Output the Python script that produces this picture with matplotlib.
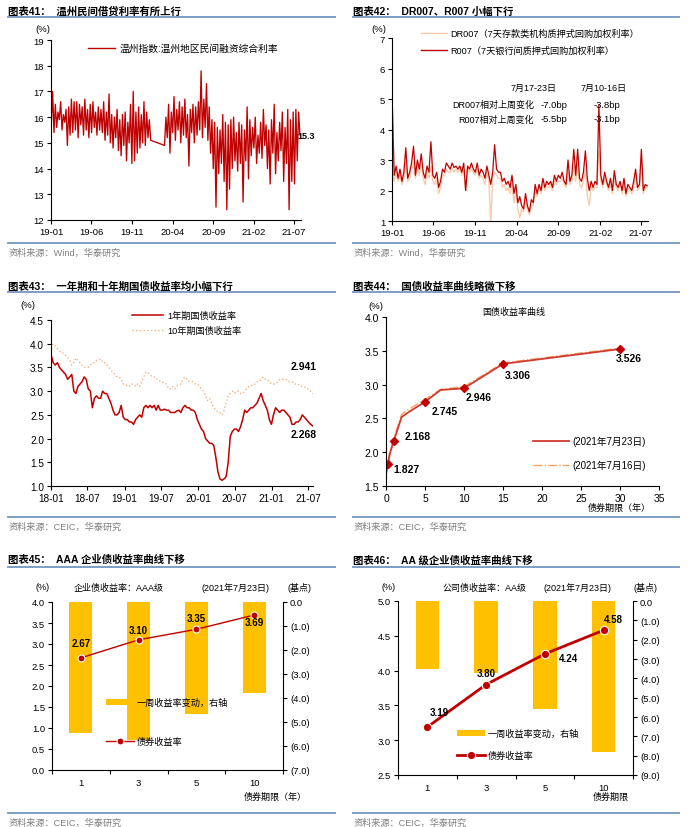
import numpy as np
import pandas as pd
import matplotlib
matplotlib.use('Agg')
import matplotlib.pyplot as plt
import matplotlib.dates as mdates
from matplotlib.lines import Line2D
from matplotlib.patches import Patch
from matplotlib.ticker import FuncFormatter, FormatStrFormatter

plt.rcParams['font.family'] = ['Liberation Sans', 'Noto Sans CJK SC']
plt.rcParams['axes.unicode_minus'] = False
plt.rcParams['axes.linewidth'] = 0.8

# ---------------- data ----------------
# 图表41 温州指数 (两段, 春节/疫情期间缺数)
wz_a = [15.7, 17.0, 15.4, 16.5, 15.6, 16.2,
        15.9, 16.6, 15.5, 16.1, 15.8, 16.3,
        14.9, 16.4, 15.3, 16.7, 15.4, 16.6,
        15.5, 16.6, 15.2, 16.5, 15.7, 16.4,
        15.3, 16.7, 15.5, 16.3, 15.2, 16.5,
        15.4, 16.6, 15.6, 16.2, 15.3, 16.4,
        15.5, 16.3, 15.4, 16.6, 15.1, 16.2,
        15.3, 16.9, 15.0, 16.1, 14.8, 16.0,
        15.2, 16.3, 14.7, 15.9, 14.5, 16.1,
        14.9, 16.2, 14.3, 15.8, 15.0, 16.5,
        14.2, 17.0, 14.3, 16.2, 14.6, 16.4,
        14.8, 16.1, 15.0, 16.6, 14.9, 16.2,
        15.2, 15.9, 15.1]
wz_b = [14.9, 16.0, 15.2, 16.5, 14.6, 16.2,
        15.4, 16.8, 15.1, 16.3, 15.5, 16.6,
        15.0, 16.4, 15.3, 16.7, 15.2, 16.1,
        14.1, 16.3, 15.4, 16.5, 15.0, 16.4,
        15.3, 16.6, 15.5, 17.8, 15.2, 16.7,
        15.6, 17.3, 15.1, 16.4, 14.6, 15.9,
        14.0, 15.8, 12.5, 15.6, 13.8, 15.5,
        14.2, 16.1, 13.5, 15.8, 12.4, 15.7,
        13.2, 15.9, 14.0, 16.0, 14.3, 15.4,
        13.9, 15.8, 14.2, 15.7, 12.7, 15.5,
        14.3, 16.4, 13.6, 15.9, 14.5, 15.6,
        14.8, 16.0, 14.2, 15.3, 14.6, 15.8,
        14.4, 16.3, 14.9, 15.7, 14.0, 15.5,
        13.4, 15.9, 14.6, 16.5, 13.8, 15.4,
        14.3, 15.8, 14.7, 16.2, 13.5, 15.6,
        14.2, 16.3, 12.4, 15.9, 13.5, 16.2,
        13.4, 16.3, 14.3, 16.2, 15.3]

# 图表42 R007 / DR007 (周度)
r007 = [4.9, 2.5, 2.8, 2.4, 2.7, 2.3, 2.6, 3.4, 2.4, 2.6, 2.9, 3.45, 2.5,
        3.0, 2.7, 3.2, 2.6, 2.4, 2.8, 2.6, 3.6, 2.5, 2.4, 2.6, 2.1, 2.3,
        2.7, 2.6, 2.9, 2.8, 2.7, 2.9, 2.75, 2.8, 2.7, 2.8, 2.6, 2.9, 2.0,
        2.8, 2.7, 2.9, 2.7, 2.6, 2.9, 2.5, 2.7, 2.6, 2.4, 2.8, 2.5, 2.2,
        2.6, 3.5, 2.7, 2.6, 2.6, 2.3, 2.4, 2.2, 2.3, 2.1, 2.5, 1.9, 2.2,
        1.6, 1.8, 1.5, 1.4, 1.9, 1.5, 1.3, 1.7, 1.6, 2.2, 1.9, 2.2, 2.0,
        2.4, 2.1, 2.3, 2.2, 2.3, 2.1, 2.5, 2.3, 2.5, 2.4, 2.6, 2.3, 2.2,
        3.0, 2.3, 2.5, 3.35, 2.5, 3.35, 2.4, 2.3, 2.6, 3.3, 2.4, 2.0, 2.3,
        2.1, 2.3, 2.2, 4.8, 2.5, 2.2, 2.6, 2.3, 2.1, 2.4, 2.0, 2.65, 2.2,
        2.1, 2.3, 2.0, 2.4, 1.9, 2.2, 2.1, 2.0, 2.3, 2.7, 2.1, 2.2, 3.35,
        2.0, 2.2, 2.15]
dr007 = [2.6, 2.3, 2.6, 2.3, 2.5, 2.2, 2.4, 2.9, 2.3, 2.4, 2.7, 2.9, 2.4,
         2.8, 2.5, 2.9, 2.4, 2.2, 2.6, 2.4, 2.8, 2.3, 2.2, 2.4, 1.9, 2.1,
         2.5, 2.5, 2.7, 2.6, 2.6, 2.7, 2.6, 2.7, 2.6, 2.7, 2.5, 2.7, 2.0,
         2.7, 2.6, 2.7, 2.6, 2.5, 2.7, 2.4, 2.5, 2.4, 2.2, 2.6, 2.3, 0.95,
         2.4, 2.6, 2.5, 2.4, 2.4, 2.1, 2.2, 2.0, 2.1, 1.9, 2.2, 1.6, 2.0,
         1.4, 1.1, 1.4, 1.3, 1.7, 1.4, 1.2, 1.5, 1.5, 2.0, 1.8, 2.1, 1.9,
         2.2, 2.0, 2.2, 2.1, 2.2, 2.0, 2.3, 2.2, 2.3, 2.3, 2.4, 2.2, 2.1,
         2.6, 2.2, 2.3, 2.8, 2.3, 2.9, 2.2, 2.1, 2.3, 2.7, 1.8, 1.5, 2.1,
         2.0, 2.1, 2.1, 3.3, 2.3, 2.1, 2.4, 2.2, 2.0, 2.2, 1.9, 2.4, 2.1,
         2.0, 2.2, 1.9, 2.2, 1.8, 2.1, 2.0, 1.9, 2.1, 2.5, 2.0, 2.1, 2.9,
         1.9, 2.1, 2.1]

# 图表43 国债收益率 (旬度)
cgb1y = [3.75, 3.6, 3.55, 3.6, 3.5, 3.45, 3.4, 3.35, 3.25, 3.3, 3.35, 3.0,
         2.95, 3.1, 3.15, 3.2, 3.3, 3.25, 3.05, 3.0, 2.65, 2.85, 2.9, 2.85,
         2.85, 3.0, 2.95, 2.95, 2.85, 2.75, 2.6, 2.5, 2.5, 2.55, 2.7, 2.45,
         2.4, 2.4, 2.35, 2.35, 2.3, 2.4, 2.45, 2.5, 2.45, 2.65, 2.7, 2.65,
         2.7, 2.65, 2.7, 2.6, 2.7, 2.6, 2.6, 2.62, 2.6, 2.6, 2.55, 2.55,
         2.55, 2.58, 2.6, 2.55, 2.65, 2.7, 2.65, 2.65, 2.6, 2.6, 2.55, 2.4,
         2.3, 2.2, 2.15, 2.0, 1.95, 1.9, 1.9, 1.85, 1.6, 1.3, 1.15, 1.12,
         1.15, 1.2, 1.5, 2.05, 2.15, 2.2, 2.2, 2.15, 2.25, 2.4, 2.6, 2.55,
         2.6, 2.65, 2.65, 2.7, 2.75, 2.85, 2.95, 2.8, 2.7, 2.6, 2.4, 2.3,
         2.5, 2.65, 2.6, 2.55, 2.6, 2.6, 2.55, 2.5, 2.45, 2.3, 2.3, 2.35,
         2.35, 2.4, 2.5, 2.45, 2.4, 2.35, 2.3, 2.268]
cgb10y = [3.9, 4.0, 3.95, 3.9, 3.85, 3.8, 3.8, 3.75, 3.7, 3.65, 3.55, 3.6,
          3.7, 3.65, 3.6, 3.55, 3.5, 3.5, 3.5, 3.55, 3.6, 3.6, 3.65, 3.65,
          3.68, 3.6, 3.6, 3.55, 3.5, 3.45, 3.4, 3.35, 3.3, 3.3, 3.25, 3.15,
          3.15, 3.1, 3.1, 3.15, 3.15, 3.1, 3.15, 3.1, 3.2, 3.3, 3.4, 3.4,
          3.35, 3.3, 3.3, 3.25, 3.25, 3.2, 3.2, 3.15, 3.15, 3.05, 3.05, 3.1,
          3.05, 3.1, 3.15, 3.15, 3.25, 3.3, 3.25, 3.2, 3.2, 3.2, 3.15, 3.15,
          3.1, 3.05, 3.0, 2.9, 2.8, 2.85, 2.75, 2.65, 2.6, 2.55, 2.55, 2.5,
          2.6, 2.75, 2.9, 2.95, 3.0, 2.95, 3.0, 3.0, 2.95, 2.95, 3.0, 3.05,
          3.1, 3.1, 3.15, 3.15, 3.2, 3.2, 3.25, 3.3, 3.25, 3.25, 3.2, 3.15,
          3.15, 3.15, 3.2, 3.25, 3.25, 3.25, 3.25, 3.2, 3.2, 3.2, 3.15, 3.15,
          3.15, 3.1, 3.1, 3.1, 3.05, 3.05, 3.0, 2.941]

# 图表44 国债收益率曲线
tenor = [0, 0.25, 0.5, 1, 2, 3, 5, 7, 10, 15, 30]
curve_0723 = [1.68, 1.827, 1.98, 2.168, 2.52, 2.60, 2.745, 2.92, 2.946, 3.306, 3.526]
curve_0716 = [1.66, 1.85, 2.01, 2.20, 2.56, 2.64, 2.78, 2.93, 2.97, 3.32, 3.54]
marked = [1, 3, 6, 8, 9, 10]

# 图表45 / 46 企业债
bond_tenor = ['1', '3', '5', '10']
aaa_yield = [2.67, 3.10, 3.35, 3.69]
aaa_chg = [-5.45, -5.75, -4.65, -3.8]
aa_yield = [3.19, 3.80, 4.24, 4.58]
aa_chg = [-3.5, -3.7, -5.6, -7.8]

# ---------------- figure ----------------
W, H = 692, 828
fig = plt.figure(figsize=(W / 100, H / 100), dpi=100)
RED = '#C00000'
BLUE = '#7F9DC6'
GOLD = '#FFC000'
FS = 6.8


def ax_at(l, t, r, b):
    return fig.add_axes([l / W, 1 - b / H, (r - l) / W, (b - t) / H])


def ftext(x, y, s, **kw):
    kw.setdefault('va', 'center')
    fig.text(x / W, 1 - y / H, s, **kw)


def hline(x0, x1, y):
    fig.add_artist(Line2D([x0 / W, x1 / W], [1 - y / H] * 2, color=BLUE, lw=1.4))


def frame(x0, x1, ytitle, yline, title, yfoot, source):
    ftext(x0, ytitle, title, fontsize=7.5, fontweight='bold')
    hline(x0, x1, yline)
    hline(x0, x1, yfoot)
    ftext(x0 + 1, yfoot + 9, source, fontsize=6.6, color='#7F7F7F')


def style(ax):
    ax.spines['top'].set_visible(False)
    ax.spines['right'].set_visible(False)
    ax.tick_params(labelsize=FS, length=3, width=0.8, pad=2)


def fig_legend(ax, handles, labels, x, y, fs=6.6, **kw):
    leg = ax.legend(handles, labels, loc='upper left', bbox_to_anchor=(x / W, 1 - y / H),
                    bbox_transform=fig.transFigure, frameon=False, borderpad=0,
                    borderaxespad=0, fontsize=fs, **kw)
    return leg


frame(8, 335, 12, 18, '图表41：  温州民间借贷利率有所上行', 244, '资料来源：Wind，华泰研究')
frame(353, 679, 12, 18, '图表42：  DR007、R007 小幅下行', 244, '资料来源：Wind，华泰研究')
frame(8, 335, 287, 293, '图表43：  一年期和十年期国债收益率均小幅下行', 518, '资料来源：CEIC，华泰研究')
frame(353, 679, 287, 293, '图表44：  国债收益率曲线略微下移', 518, '资料来源：CEIC，华泰研究')
frame(8, 335, 560, 568, '图表45：  AAA 企业债收益率曲线下移', 814, '资料来源：CEIC，华泰研究')
frame(353, 679, 560, 568, '图表46：  AA 级企业债收益率曲线下移', 814, '资料来源：CEIC，华泰研究')

ticks_5m = pd.to_datetime(['2019-01-01', '2019-06-01', '2019-11-01', '2020-04-01',
                           '2020-09-01', '2021-02-01', '2021-07-01'])

# ---- 图表41
ax = ax_at(51, 41, 301, 221)
style(ax)
d41 = pd.date_range('2019-01-02', '2020-01-10', periods=len(wz_a)).append(
    pd.date_range('2020-03-02', '2021-07-23', periods=len(wz_b)))
wz = wz_a + wz_b
ax.plot(d41, wz, color=RED, lw=0.95)
ax.set_xlim(pd.Timestamp('2019-01-01'), pd.Timestamp('2021-07-27'))
ax.set_ylim(12, 19)
ax.set_yticks(range(12, 20))
ax.set_xticks(ticks_5m)
ax.xaxis.set_major_formatter(mdates.DateFormatter('%y-%m'))
ax.annotate('15.3', (d41[-1], wz[-1]), xytext=(-3, 0), textcoords='offset pixels',
            fontsize=6.5, fontweight='bold', ha='left', va='center')
fig_legend(ax, [Line2D([], [], color=RED, lw=1)], ['温州指数:温州地区民间融资综合利率'],
           88, 44, fs=7.0, handlelength=2.8, handletextpad=0.45)
ftext(43, 30, '(%)', fontsize=FS, ha='center')

# ---- 图表42
ax = ax_at(392, 39, 648, 222)
style(ax)
d42 = pd.date_range('2019-01-02', '2021-07-23', periods=len(r007))
ax.plot(d42, dr007, color='#F8CBAD', lw=1.0)
ax.plot(d42, r007, color=RED, lw=0.9)
ax.set_xlim(pd.Timestamp('2019-01-01'), pd.Timestamp('2021-07-26'))
ax.set_ylim(1, 7)
ax.set_yticks(range(1, 8))
ax.set_xticks(ticks_5m)
ax.xaxis.set_major_formatter(mdates.DateFormatter('%y-%m'))
fig_legend(ax, [Line2D([], [], color='#F8CBAD', lw=1), Line2D([], [], color=RED, lw=1)],
           ['DR007（7天存款类机构质押式回购加权利率）', 'R007（7天银行间质押式回购加权利率）'],
           421, 30, fs=6.6, handlelength=2.8, handletextpad=0.35, labelspacing=0.85)
ftext(379, 29, '(%)', fontsize=FS, ha='center')
ftext(534, 88, '7月17-23日', fontsize=6.5, ha='center')
ftext(604, 88, '7月10-16日', fontsize=6.5, ha='center')
ftext(534, 105, 'DR007相对上周变化', fontsize=6.5, ha='right')
ftext(534, 120, 'R007相对上周变化', fontsize=6.5, ha='right')
ftext(541, 105, '-7.0bp', fontsize=6.8)
ftext(541, 120, '-5.5bp', fontsize=6.8)
ftext(594, 105, '-3.8bp', fontsize=6.8)
ftext(594, 120, '-3.1bp', fontsize=6.8)

# ---- 图表43
ax = ax_at(51, 321, 313, 487)
style(ax)
d43 = pd.date_range('2018-01-02', '2021-07-23', periods=len(cgb1y))
ax.plot(d43, cgb10y, color='#F4B183', lw=1.0, ls=':')
ax.plot(d43, cgb1y, color=RED, lw=1.1)
ax.set_xlim(pd.Timestamp('2018-01-01'), pd.Timestamp('2021-07-25'))
ax.set_ylim(1.0, 4.5)
ax.set_yticks(np.arange(1.0, 4.51, 0.5))
ax.yaxis.set_major_formatter(FormatStrFormatter('%.1f'))
ax.set_xticks(pd.to_datetime(['2018-01-01', '2018-07-01', '2019-01-01', '2019-07-01',
                              '2020-01-01', '2020-07-01', '2021-01-01', '2021-07-01']))
ax.xaxis.set_major_formatter(mdates.DateFormatter('%y-%m'))
ax.tick_params(labelsize=7.2)
ax.annotate('2.941', (d43[-1], cgb10y[-1]), xytext=(-9, 28), textcoords='offset pixels',
            fontsize=7.5, fontweight='bold', ha='center', va='center')
ax.annotate('2.268', (d43[-1], cgb1y[-1]), xytext=(-9, -8), textcoords='offset pixels',
            fontsize=7.5, fontweight='bold', ha='center', va='center')
fig_legend(ax, [Line2D([], [], color=RED, lw=1.1), Line2D([], [], color='#F4B183', lw=1, ls=':')],
           ['1年期国债收益率', '10年期国债收益率'], 132, 312,
           handlelength=3.4, handletextpad=0.45, labelspacing=0.65)
ftext(28, 305, '(%)', fontsize=FS, ha='center')

# ---- 图表44
ax = ax_at(386, 318, 659, 487)
style(ax)
ax.plot(tenor, curve_0716, color='#F4A460', lw=1.0, ls='-.')
ax.plot(tenor, curve_0723, color='#D03A30', lw=1.3, marker='D', ms=3.8,
        mfc=RED, mec=RED, markevery=marked)
ax.set_xlim(0, 35)
ax.set_ylim(1.5, 4.0)
ax.set_xticks(range(0, 36, 5))
ax.set_yticks(np.arange(1.5, 4.01, 0.5))
ax.yaxis.set_major_formatter(FormatStrFormatter('%.1f'))
ax.tick_params(labelsize=7.5)
offs = [(19, -5), (24, 5), (20, -9), (15, -9), (15, -11), (9, -9)]
for i, o in zip(marked, offs):
    ax.annotate(f'{curve_0723[i]:.3f}', (tenor[i], curve_0723[i]), xytext=o,
                textcoords='offset pixels', fontsize=7.5, fontweight='bold',
                ha='center', va='center')
fig_legend(ax, [Line2D([], [], color='#D03A30', lw=1.3), Line2D([], [], color='#F4A460', lw=1, ls='-.')],
           ['(2021年7月23日)', '(2021年7月16日)'], 533, 437, fs=7.0,
           handlelength=3.7, handletextpad=0.4, labelspacing=1.4)
ftext(376, 307, '(%)', fontsize=FS, ha='center')
ftext(514, 312, '国债收益率曲线', fontsize=6.5, ha='center')
ftext(651, 508, '债券期限（年）', fontsize=6.5, ha='right')


# ---- 图表45 / 46
def bond_panel(box, yl, yr, yields, chg, lw, ms, offs, legpos, lspace, heads, xlab):
    ax = ax_at(*box)
    axb = ax.twinx()
    pos = np.arange(len(bond_tenor))
    axb.bar(pos, chg, width=0.4, color=GOLD)
    axb.set_ylim(*yr)
    axb.set_yticks(np.arange(yr[0], yr[1] + 0.01, 1.0))
    axb.yaxis.set_major_formatter(
        FuncFormatter(lambda v, p: '0.0' if abs(v) < 1e-9 else f'({abs(v):.1f})'))
    for s in ['top', 'left', 'bottom']:
        axb.spines[s].set_visible(False)
    axb.tick_params(labelsize=FS, length=3, width=0.8, pad=2)

    ax.plot(pos, yields, color=RED, lw=lw, marker='o', ms=ms, mfc=RED, mec='white', mew=0.8)
    ax.set_zorder(axb.get_zorder() + 1)
    ax.patch.set_visible(False)
    style(ax)
    ax.set_ylim(*yl)
    ax.set_yticks(np.arange(yl[0], yl[1] + 0.01, 0.5))
    ax.yaxis.set_major_formatter(FormatStrFormatter('%.1f'))
    ax.set_xlim(-0.5, len(pos) - 0.5)
    ax.set_xticks(np.arange(-0.5, len(pos), 1.0))
    ax.set_xticklabels([])
    ax.set_xticks(pos, minor=True)
    ax.set_xticklabels(bond_tenor, minor=True)
    ax.tick_params(axis='x', which='minor', length=0, pad=6, labelsize=FS)
    for p, v, o in zip(pos, yields, offs):
        ax.annotate(f'{v:.2f}', (p, v), xytext=o, textcoords='offset pixels',
                    fontsize=7, fontweight='bold', ha='center', va='center')
    fig_legend(ax, [Patch(color=GOLD, lw=0),
                    Line2D([], [], color=RED, lw=lw, marker='o', ms=ms, mfc=RED, mec='white', mew=0.8)],
               ['一周收益率变动，右轴', '债券收益率'], legpos[0], legpos[1],
               handlelength=3.0, handletextpad=0.3, labelspacing=lspace, handleheight=0.6)
    for x, s in heads:
        ftext(x, 588, s, fontsize=6.5, ha='center')
    ftext(xlab[0], 797, xlab[1], fontsize=6.5, ha='right')


bond_panel((52, 603, 283, 771), (0, 4.0), (-7, 0), aaa_yield, aaa_chg, 1.0, 5,
           [(0, 15), (0, 10), (0, 11), (0, -7)], (106, 699), 3.2,
           [(43, '(%)'), (119, '企业债收益率：AAA级'), (236, '(2021年7月23日)'), (300, '(基点)')],
           (307, '债券期限（年）'))
bond_panel((398, 602, 633, 776), (2.5, 5.0), (-9, 0), aa_yield, aa_chg, 2.0, 6,
           [(12, 15), (0, 12), (24, -4), (10, 11)], (457, 730), 1.35,
           [(389, '(%)'), (485, '公司债收益率：AA级'), (578, '(2021年7月23日)'), (645, '(基点)')],
           (629, '债券期限'))

fig.savefig('out.png', dpi=100)
